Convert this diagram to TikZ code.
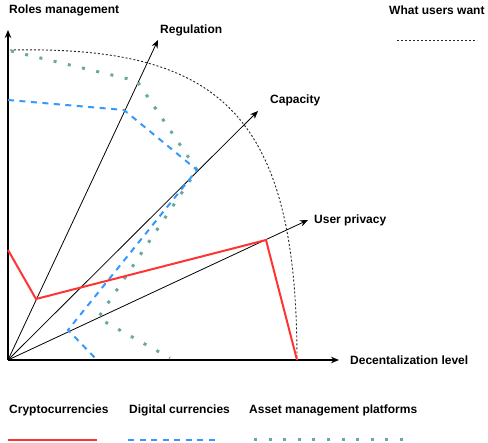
\documentclass[tikz,border=0pt]{standalone}
\usepackage{fontspec}
\setmainfont{Liberation Sans}
\usetikzlibrary{arrows.meta}
\definecolor{cred}{HTML}{FF3333}
\definecolor{cblue}{HTML}{3399FF}
\definecolor{cgreen}{HTML}{67AB9F}
\tikzset{
  lbl/.style={font=\fontsize{12}{14}\selectfont\bfseries, inner sep=0pt, anchor=west},
  mainaxis/.style={line width=1.3pt, -{Stealth[length=8pt,width=6.5pt]}},
  radaxis/.style={line width=0.8pt, -{Stealth[length=8pt,width=6.5pt]}},
  wantline/.style={line width=0.9pt, dash pattern=on 2pt off 2pt, black!85},
  cryptoline/.style={line width=2pt, cred},
  digitline/.style={line width=2pt, cblue, dash pattern=on 6pt off 5.5pt},
  assetline/.style={line width=3pt, cgreen, dash pattern=on 3pt off 11.6pt},
}
\begin{document}
\begin{tikzpicture}[x=1pt,y=-1pt]
\useasboundingbox (0,0) rectangle (488,443);
% coordinates
\coordinate (O) at (8,360);
\coordinate (Ytip) at (8,30);
\coordinate (Xtip) at (339,360);
\coordinate (Rtip) at (158,40);
\coordinate (Ctip) at (258,111);
\coordinate (Ptip) at (308,220);
% axes
\draw[mainaxis] (O) -- (Ytip);
\draw[mainaxis] (O) -- (Xtip);
\draw[radaxis] (O) -- (Rtip);
\draw[radaxis] (O) -- (Ctip);
\draw[radaxis] (O) -- (Ptip);
% what users want
\coordinate (W1) at (10,50);
\coordinate (W2) at (297,360);
\draw[wantline] (W1) .. controls (215,46) and (297,108) .. (W2);
% asset management
\coordinate (A1) at (11,51);
\coordinate (A2) at (137,81);
\coordinate (A3) at (197,170);
\coordinate (A4) at (98,318);
\coordinate (A5) at (170,358);
\draw[assetline] (A1) -- (A2) -- (A3) -- (A4) -- (A5);
% digital currencies
\coordinate (D1) at (8,100);
\coordinate (D2) at (124,110);
\coordinate (D3) at (197,170);
\coordinate (D4) at (68,330);
\coordinate (D5) at (97,360);
\draw[digitline] (D1) -- (D2) -- (D3) -- (D4) -- (D5);
% cryptocurrencies
\coordinate (K1) at (8,250);
\coordinate (K2) at (36,299);
\coordinate (K3) at (266,240);
\coordinate (K4) at (297,360);
\draw[cryptoline, line join=miter] (K1) -- (K2) -- (K3) -- (K4);
% labels
\node[lbl] (lroles) at (9,10) {Roles management};
\node[lbl] (lreg) at (160,30) {Regulation};
\node[lbl] (lcap) at (270,100) {Capacity};
\node[lbl] (lpriv) at (314,220) {User privacy};
\node[lbl] (ldec) at (350,360) {Decentalization level};
\node[lbl] (lwant) at (389,10) {What users want};
% legend
\node[lbl] (lcrypto) at (9,410) {Cryptocurrencies};
\node[lbl] (ldigit) at (129,410) {Digital currencies};
\node[lbl] (lasset) at (249,410) {Asset management platforms};
\coordinate (LW1) at (397,40); \coordinate (LW2) at (477,40);
\draw[wantline] (LW1) -- (LW2);
\coordinate (LK1) at (8,440); \coordinate (LK2) at (97,440);
\draw[cryptoline] (LK1) -- (LK2);
\coordinate (LD1) at (128,440); \coordinate (LD2) at (217,440);
\draw[digitline] (LD1) -- (LD2);
\coordinate (LA1) at (254,440); \coordinate (LA2) at (408,440);
\draw[assetline] (LA1) -- (LA2);
\end{tikzpicture}
\end{document}
